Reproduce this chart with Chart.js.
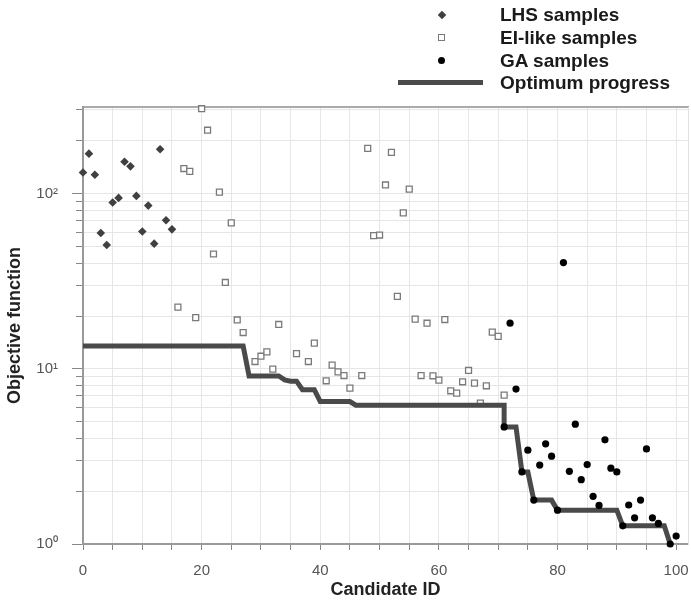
<!DOCTYPE html>
<html>
<head>
<meta charset="utf-8">
<script src="https://cdn.jsdelivr.net/npm/chart.js@4.4.1/dist/chart.umd.min.js"></script>
<style>
html,body{margin:0;padding:0;background:#fff;}
#wrap{position:relative;width:691px;height:605px;overflow:hidden;}
#c{position:absolute;left:0;top:0;}
.lt{position:absolute;left:500px;font:bold 19px "Liberation Sans",Arial,Helvetica,sans-serif;color:#1a1a1a;white-space:nowrap;line-height:22px;height:22px;}
.mk{position:absolute;}
</style>
</head>
<body>
<div id="wrap">
<canvas id="c" width="691" height="605"></canvas>
<div class="mk" style="left:438.5px;top:12px;width:6px;height:6px;background:#404040;transform:rotate(45deg);"></div>
<div class="lt" style="top:4px;">LHS samples</div>
<div class="mk" style="left:438px;top:34px;width:5px;height:5px;border:1.3px solid #7a7a7a;background:#fff;"></div>
<div class="lt" style="top:27px;">EI-like samples</div>
<div class="mk" style="left:438px;top:57px;width:7px;height:7px;border-radius:50%;background:#000;"></div>
<div class="lt" style="top:50px;">GA samples</div>
<div class="mk" style="left:398px;top:79.5px;width:85px;height:5px;background:#4a4a4a;"></div>
<div class="lt" style="top:72px;">Optimum progress</div>
</div>
<script>
// ---- data ----
const lhsIds  = [0,1,2,3,4,5,6,7,8,9,10,11,12,13,14,15];
const lhsVals = [132,169,128,59.6,50.9,89,94.5,152,143,97,60.7,85.4,51.8,179,70.4,62.5];

const eiIds  = [16,17,18,19,20,21,22,23,24,25,26,27,29,30,31,32,33,36,38,39,41,42,43,44,45,47,
                48,49,50,51,52,53,54,55,56,57,58,59,60,61,62,63,64,65,66,67,68,69,70,71];
const eiVals = [22.5,139,134,19.6,305,230,45.2,102,31.1,68,19,16.1,11.0,11.8,12.5,9.96,17.9,12.2,11.0,14.0,8.54,10.5,9.6,9.15,7.76,9.15,
                181,57.5,58,112,172,25.9,77.6,106,19.2,9.15,18.2,9.12,8.61,19.1,7.49,7.26,8.43,9.78,8.28,6.37,8.0,16.2,15.3,7.08];

const gaIds  = [71,72,73,74,75,76,77,78,79,80,81,82,83,84,85,86,87,88,89,90,91,92,93,94,95,96,97,99,100];
const gaVals = [4.66,18.2,7.66,2.58,3.43,1.78,2.82,3.73,3.17,1.56,40.4,2.60,4.83,2.33,2.84,1.87,1.66,3.93,2.71,2.58,1.27,1.67,1.41,1.78,3.49,1.41,1.31,1.0,1.11];

const optIds  = [0,27,28,33,34,35,36,37,39,40,45,46,71,71,73,74,75,76,79,80,90,91,98,99];
const optVals = [13.5,13.5,9.1,9.1,8.65,8.5,8.5,7.6,7.6,6.5,6.5,6.2,6.2,4.66,4.66,2.58,2.58,1.78,1.78,1.56,1.56,1.27,1.27,1.0];

const xTickVals   = [0,5,10,15,20,25,30,35,40,45,50,55,60,65,70,75,80,85,90,95,100];
const xLabelVals  = [0,20,40,60,80,100];
const yMajorTicks = [1,10,100];
const yMajorLabels = ['10\u2070','10\u00B9','10\u00B2'];
const yMinorTicks = [1,2,3,4,5,6,7,8,9,10,20,30,40,50,60,70,80,90,100,200,300];

const xMin = 0, xMax = 102, yMin = 1, yMax = 312;

const F = '"Liberation Sans", Arial, Helvetica, sans-serif';
const pts = (xs, ys) => xs.map((x, i) => ({x: x, y: ys[i]}));

new Chart(document.getElementById('c').getContext('2d'), {
  type: 'scatter',
  data: {
    datasets: [
      {label: 'GA samples', data: pts(gaIds, gaVals), pointStyle: 'circle', pointRadius: 3.6,
       backgroundColor: '#000', borderColor: '#000', borderWidth: 0, order: 0, clip: false},
      {label: 'Optimum progress', data: pts(optIds, optVals), showLine: true, borderColor: '#4a4a4a',
       backgroundColor: '#4a4a4a', borderWidth: 5, pointRadius: 0, tension: 0, fill: false, order: 1,
       borderJoinStyle: 'miter'},
      {label: 'EI-like samples', data: pts(eiIds, eiVals), pointStyle: 'rect', pointRadius: 4.2,
       backgroundColor: '#fff', borderColor: '#7a7a7a', borderWidth: 1.3, order: 2, clip: false},
      {label: 'LHS samples', data: pts(lhsIds, lhsVals), pointStyle: 'rectRot', pointRadius: 4.3,
       backgroundColor: '#404040', borderColor: '#404040', borderWidth: 0, order: 3, clip: false}
    ]
  },
  options: {
    responsive: false, animation: false, devicePixelRatio: 1,
    layout: {autoPadding: false, padding: {top: 107, right: 3, left: 0, bottom: 0}},
    plugins: {legend: {display: false}, tooltip: {enabled: false}},
    scales: {
      x: {
        type: 'linear', position: 'bottom', min: xMin, max: xMax,
        afterBuildTicks: s => { s.ticks = xTickVals.map(v => ({value: v})); },
        afterFit: s => { s.height = 61; s.paddingRight = 0; s.paddingLeft = 0; },
        ticks: {callback: v => xLabelVals.includes(v) ? String(v) : '', font: {size: 15, family: F},
                color: '#555', padding: 12, maxRotation: 0, autoSkip: false},
        grid: {color: '#e6e6e6', lineWidth: 1, tickLength: 6, tickColor: '#888'},
        border: {color: '#999', width: 2},
        title: {display: true, text: 'Candidate ID', font: {size: 18, weight: 'bold', family: F},
                color: '#222', padding: {top: 0, bottom: 4}}
      },
      x2: {
        type: 'linear', position: 'top', min: xMin, max: xMax,
        afterFit: s => { s.height = 0; s.paddingRight = 0; s.paddingLeft = 0; },
        ticks: {display: false},
        grid: {drawOnChartArea: false, drawTicks: false},
        border: {color: '#aaa', width: 2}
      },
      y: {
        type: 'logarithmic', position: 'left', min: yMin, max: yMax, weight: 1,
        afterBuildTicks: s => { s.ticks = yMajorTicks.map(v => ({value: v, major: true})); },
        afterFit: s => { s.width = 83; },
        ticks: {callback: (v, i) => yMajorLabels[i], font: {size: 15, family: F}, color: '#555',
                padding: 14, autoSkip: false},
        grid: {color: '#e6e6e6', lineWidth: 1, tickLength: 11, tickColor: '#888'},
        border: {color: '#999', width: 2},
        title: {display: true, text: 'Objective function', font: {size: 18, weight: 'bold', family: F},
                color: '#222', padding: {top: 4, bottom: 0}}
      },
      yMinor: {
        type: 'logarithmic', position: 'left', min: yMin, max: yMax, weight: 0,
        afterBuildTicks: s => { s.ticks = yMinorTicks.map(v => ({value: v})); },
        afterFit: s => { s.width = 0; },
        ticks: {callback: () => '', autoSkip: false, padding: 0},
        grid: {color: '#e6e6e6', lineWidth: 1, tickLength: 7, tickColor: '#888'},
        border: {display: false}
      },
      y2: {
        type: 'linear', position: 'right', min: 0, max: 1,
        afterFit: s => { s.width = 0; },
        ticks: {display: false},
        grid: {drawOnChartArea: false, drawTicks: false},
        border: {color: '#e0e0e0', width: 1}
      }
    }
  }
});
</script>
</body>
</html>
